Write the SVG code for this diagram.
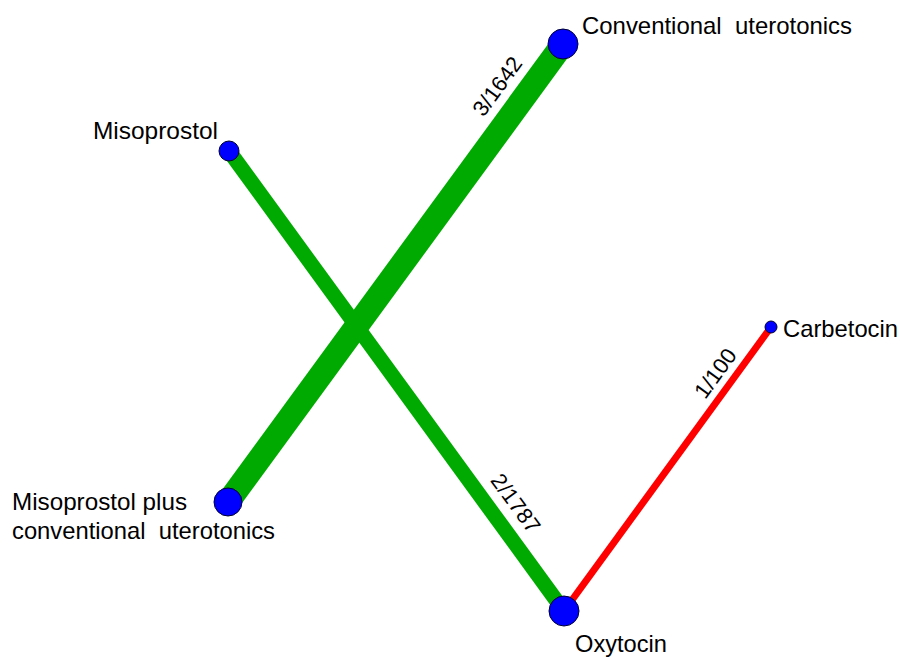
<svg xmlns="http://www.w3.org/2000/svg" width="902" height="657" viewBox="0 0 902 657" xml:space="preserve">
<style>
text{font-family:"Liberation Sans",Arial,sans-serif;fill:#000;white-space:pre}
.lbl{font-size:24px}
.el{font-size:22px;text-anchor:middle}
.node{fill:#0000FF;stroke:#000033;stroke-width:1}
.e{stroke-linecap:butt;fill:none}
</style>
<rect width="902" height="657" fill="#fff"/>
<g id="connectors">
<line class="e" x1="228" y1="502" x2="563" y2="44" stroke="#00AA00" stroke-width="24"/>
<line class="e" x1="229" y1="151" x2="564" y2="611" stroke="#00AA00" stroke-width="15"/>
<line class="e" x1="564" y1="611" x2="771" y2="327" stroke="#FF0000" stroke-width="7"/>
<text class="el" transform="translate(497,86) rotate(-53.8)" y="8">3/1642</text>
<text class="el" transform="translate(516,503) rotate(53.9)" y="8">2/1787</text>
<text class="el" transform="translate(715,373) rotate(-53.9)" y="8">1/100</text>
</g>
<g id="conventional">
<circle class="node" cx="563" cy="44" r="15"/>
<text class="lbl" x="582" y="34" textLength="270" lengthAdjust="spacingAndGlyphs">Conventional  uterotonics</text>
</g>
<g id="misoprostol">
<circle class="node" cx="229" cy="151" r="10"/>
<text class="lbl" x="93" y="139" textLength="125" lengthAdjust="spacingAndGlyphs">Misoprostol</text>
</g>
<g id="misoplus">
<circle class="node" cx="228" cy="502" r="14"/>
<text class="lbl" x="12" y="510" textLength="175" lengthAdjust="spacingAndGlyphs">Misoprostol plus</text>
<text class="lbl" x="12" y="539" textLength="263" lengthAdjust="spacingAndGlyphs">conventional  uterotonics</text>
</g>
<g id="oxytocin">
<circle class="node" cx="564" cy="611" r="15"/>
<text class="lbl" x="575" y="652" textLength="92" lengthAdjust="spacingAndGlyphs">Oxytocin</text>
</g>
<g id="carbetocin">
<circle class="node" cx="771" cy="327" r="6"/>
<text class="lbl" x="783" y="337" textLength="115" lengthAdjust="spacingAndGlyphs">Carbetocin</text>
</g>
</svg>
